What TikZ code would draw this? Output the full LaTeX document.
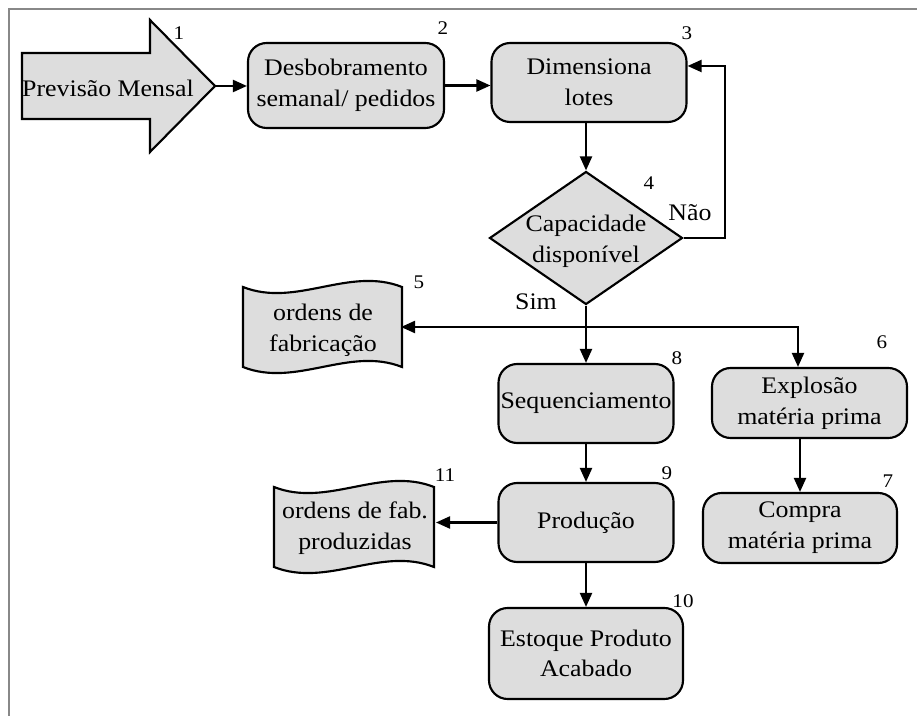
\documentclass[tikz,border=0pt]{standalone}
\usepackage{fontspec}
\setmainfont{Liberation Serif}[FakeStretch=1.09]
\usetikzlibrary{arrows.meta,shapes.geometric}
\definecolor{fillgray}{RGB}{221,221,221}
\definecolor{framegray}{RGB}{136,136,136}
\begin{document}
\begin{tikzpicture}[x=0.75pt,y=-0.75pt,
  txt/.style={font=\fontsize{17.8pt}{23pt}\selectfont, align=center},
  num/.style={font=\fontsize{14.5pt}{17pt}\selectfont, inner sep=0pt},
  sz/.style 2 args={minimum width=#1*0.75pt, minimum height=#2*0.75pt},
  box/.style={draw, fill=fillgray, line width=1.6pt, rounded corners=14pt, txt, inner sep=0pt},
  shp/.style={draw, fill=fillgray, line width=1.6pt, line join=miter},
  arr/.style={line width=1.6pt, -{Triangle[length=10.5pt,width=9pt]}},
  ln/.style={line width=1.6pt}]
\useasboundingbox (0,0) rectangle (917,716);
% frame
\draw[framegray, line width=1.6pt] (9,716) -- (9,9) -- (917,9);

% 1: big arrow
\draw[shp] (22,53) -- (150,53) -- (150,20) -- (215,86) -- (150,152) -- (150,119) -- (22,119) -- cycle;
\coordinate (a1tip) at (215,86);
\node[txt] (p1) at (108,88) {Previsão Mensal};
\node[num] (n1) at (179,33) {1};

% boxes
\node[box, sz={196}{85}] (b2) at (346,85.5) {Desbobramento\\semanal/ pedidos};
\node[num] (n2) at (443,28) {2};
\node[box, sz={195}{79}] (b3) at (589,82.5) {Dimensiona\\lotes};
\node[num] (n3) at (687,33) {3};

% diamond
\node[diamond, shp, sz={193}{133}, inner sep=0pt] (d4) at (586,238) {};
\node[txt] (d4t) at (586,241) {Capacidade\\disponível};
\node[num] (n4) at (649,183) {4};
\node[txt] (nao) at (690,213) {Não};
\node[txt] (sim) at (536,302) {Sim};

% document 5
\draw[shp] (243,287) .. controls (296,308) and (349,266) .. (402,287) -- (402,367)
  .. controls (349,346) and (296,388) .. (243,367) -- cycle;
\node[txt] (d5) at (323,330) {ordens de\\fabricação};
\coordinate (d5r) at (401,327);
\node[num] (n5) at (419,282) {5};

\node[box, sz={195}{70}] (b6) at (809.5,403) {Explosão\\matéria prima};
\node[num] (n6) at (882,342) {6};
\node[box, sz={194}{70}] (b7) at (800,528) {Compra\\matéria prima};
\node[num] (n7) at (888,481) {7};

\node[box, sz={175}{79}] (b8) at (586,403.5) {Sequenciamento};
\node[num] (n8) at (677,358) {8};
\node[box, sz={175}{79}] (b9) at (586,522.5) {Produção};
\node[num] (n9) at (667,473) {9};
\node[box, sz={194}{91}] (b10) at (586,653.5) {Estoque Produto\\Acabado};
\node[num] (n10) at (683,601) {10};

% document 11
\draw[shp] (274,487) .. controls (327.3,508) and (380.7,466) .. (434,487) -- (434,567)
  .. controls (380.7,546) and (327.3,588) .. (274,567) -- cycle;
\node[txt] (d11) at (355,528) {ordens de fab.\\produzidas};
\coordinate (d11r) at (436,525);
\node[num] (n11) at (445,475) {11};

% connectors
\draw[arr] (a1tip) -- (b2.west |- a1tip);
\draw[arr] (b2.east) -- (b2.east -| b3.west);
\draw[arr] (b3.south -| d4.north) -- (d4.north);
\coordinate (lp) at (725,66);
\draw[arr] (d4.east) -| (lp) -- (lp -| b3.east);
\coordinate (j) at (586,327);
\coordinate (j6) at (798,327);
\draw[ln] (d4.south) -- (j);
\draw[arr] (j) -- (d5r);
\draw[arr] (j) -- (j6) -- (j6 |- b6.north);
\draw[arr] (j) -- (b8.north);
\draw[arr] (b7.north |- b6.south) -- (b7.north);
\draw[arr] (b8.south) -- (b9.north);
\draw[arr] (b9.west) -- (b9.west -| d11r);
\draw[arr] (b9.south) -- (b10.north);
\end{tikzpicture}
\end{document}
